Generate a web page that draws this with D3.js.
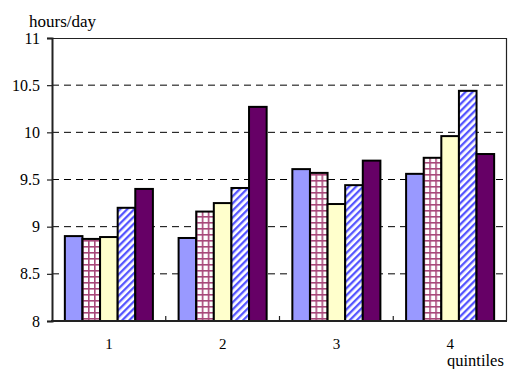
<!DOCTYPE html>
<html>
<head>
<meta charset="utf-8">
<script src="https://cdn.jsdelivr.net/npm/d3@7"></script>
<style>
  html, body { margin: 0; padding: 0; background: #fff; }
  svg { display: block; }
  svg text { font-family: "Liberation Serif", "Times New Roman", serif !important; fill: #000; }
</style>
</head>
<body>
<svg id="chart" width="510" height="369"></svg>
<script>
// Quintile groups along the x axis
const quintiles = ["1", "2", "3", "4"];
// Five series drawn inside each quintile group (hours/day)
const seriesA = [8.90, 8.88, 9.61, 9.56];
const seriesB = [8.87, 9.16, 9.57, 9.73];
const seriesC = [8.89, 9.25, 9.24, 9.96];
const seriesD = [9.20, 9.41, 9.44, 10.44];
const seriesE = [9.40, 10.27, 9.70, 9.77];
const yTicks = [8, 8.5, 9, 9.5, 10, 10.5, 11];
const yTickLabels = ["8", "8.5", "9", "9.5", "10", "10.5", "11"];
const yTitle = "hours/day";
const xTitle = "quintiles";

const series = [
  { key: "A", values: seriesA, fill: "#9999FF" },
  { key: "B", values: seriesB, fill: "url(#check)" },
  { key: "C", values: seriesC, fill: "#FFFFCC" },
  { key: "D", values: seriesD, fill: "url(#diag)" },
  { key: "E", values: seriesE, fill: "#660066" }
];

const serif = "'Liberation Serif', 'Times New Roman', serif";
const svg = d3.select("#chart");
const margin = { left: 52, right: 3, top: 38, bottom: 48 };
const W = 510, H = 369;
const x0 = margin.left, x1 = W - margin.right;
const y0 = margin.top, y1 = H - margin.bottom;

// Patterns
const defs = svg.append("defs");
const check = defs.append("pattern")
  .attr("id", "check").attr("patternUnits", "userSpaceOnUse")
  .attr("width", 6).attr("height", 6);
check.append("rect").attr("width", 6).attr("height", 6).attr("fill", "#fff");
check.append("rect").attr("x", 0).attr("y", 0).attr("width", 6).attr("height", 1.6).attr("fill", "#A8487A");
check.append("rect").attr("x", 0).attr("y", 0).attr("width", 1.6).attr("height", 6).attr("fill", "#A8487A");

const diag = defs.append("pattern")
  .attr("id", "diag").attr("patternUnits", "userSpaceOnUse")
  .attr("width", 5).attr("height", 5)
  .attr("patternTransform", "rotate(45)");
diag.append("rect").attr("width", 5).attr("height", 5).attr("fill", "#fff");
diag.append("rect").attr("x", 0).attr("y", 0).attr("width", 2.3).attr("height", 5).attr("fill", "#5555FF");

const x = d3.scaleBand().domain(quintiles).range([x0, x1]).paddingInner(0).paddingOuter(0);
const xs = d3.scaleBand().domain(series.map(s => s.key))
  .range([0, x.bandwidth()]).paddingInner(0).paddingOuter(0.73);
const y = d3.scaleLinear().domain([8, 11]).range([y1, y0]);

// Dashed gridlines
svg.append("g").selectAll("line")
  .data(yTicks.filter(t => t > 8 && t < 11))
  .join("line")
  .attr("x1", x0).attr("x2", x1)
  .attr("y1", d => y(d)).attr("y2", d => y(d))
  .attr("stroke", "#000").attr("stroke-width", 1)
  .attr("stroke-dasharray", "7,5");

// Frame top and right
svg.append("path")
  .attr("d", `M${x0},${y0 + 0.5}H${x1 - 0.5}V${y1}`)
  .attr("fill", "none").attr("stroke", "#222").attr("stroke-width", 1.2);

// Bars
const groups = svg.append("g").selectAll("g")
  .data(quintiles).join("g")
  .attr("transform", d => `translate(${x(d)},0)`);
groups.selectAll("rect")
  .data((q, i) => series.map(s => ({ key: s.key, fill: s.fill, v: s.values[i] })))
  .join("rect")
  .attr("x", d => xs(d.key))
  .attr("width", xs.bandwidth())
  .attr("y", d => y(d.v))
  .attr("height", d => y(8) - y(d.v))
  .attr("fill", d => d.fill)
  .attr("stroke", "#000").attr("stroke-width", 2);

// Y axis
const yAxis = svg.append("g").attr("transform", `translate(${x0},0)`)
  .call(d3.axisLeft(y).tickValues(yTicks)
    .tickFormat((d, i) => yTickLabels[i]).tickSize(5).tickPadding(7));
yAxis.attr("font-family", serif).attr("font-size", 16);
yAxis.select(".domain").attr("stroke", "#222").attr("stroke-width", 2);
yAxis.selectAll(".tick line").attr("stroke", "#222").attr("stroke-width", 1.2);
yAxis.selectAll("text").style("font-family", serif).style("font-size", "16px").attr("fill", "#000");

// X axis: baseline with inward ticks at category boundaries
const xb = svg.append("g");
xb.selectAll("line.tk").data(quintiles.slice(1)).join("line")
  .attr("class", "tk")
  .attr("x1", d => x(d)).attr("x2", d => x(d))
  .attr("y1", y1).attr("y2", y1 - 5)
  .attr("stroke", "#222").attr("stroke-width", 1.2);
xb.append("line").attr("x1", x0 - 1).attr("x2", x1).attr("y1", y1).attr("y2", y1)
  .attr("stroke", "#222").attr("stroke-width", 2);
xb.selectAll("text").data(quintiles).join("text")
  .attr("x", d => x(d) + x.bandwidth() / 2)
  .attr("y", 349)
  .attr("text-anchor", "middle")
  .style("font-family", serif).style("font-size", "15px")
  .text(d => d);

// Axis titles
svg.append("text").attr("x", 29).attr("y", 27)
  .style("font-family", serif).style("font-size", "17px").text(yTitle);
svg.append("text").attr("x", 447).attr("y", 366)
  .style("font-family", serif).style("font-size", "16.5px").text(xTitle);
</script>
</body>
</html>
